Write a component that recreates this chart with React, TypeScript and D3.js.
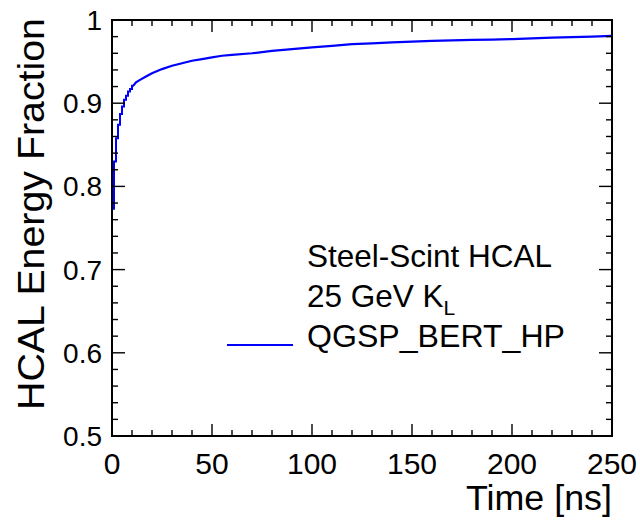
import * as d3 from "d3";
import React from "react";

const W = 640;
const H = 520;
const M = { left: 112, right: 28, top: 20, bottom: 84 };

// early bins (1 ns wide), drawn as histogram steps
const binEdges = [0, 1, 2, 3, 4, 5, 6, 7, 8, 9, 10];
const binValues = [0.773, 0.83, 0.858, 0.874, 0.887, 0.896, 0.904, 0.909, 0.914, 0.917, 0.921];

// later part of the curve
const timeNs = [11, 12, 14, 17, 20, 25, 30, 35, 40, 45, 50, 55, 60, 70, 80, 90, 100, 110, 120, 130, 140, 150, 160, 170, 180, 190, 200, 210, 220, 230, 240, 250];
const fraction = [0.922, 0.925, 0.928, 0.932, 0.936, 0.941, 0.945, 0.948, 0.951, 0.953, 0.955, 0.957, 0.958, 0.96, 0.963, 0.965, 0.967, 0.969, 0.971, 0.972, 0.973, 0.974, 0.975, 0.9755, 0.976, 0.9765, 0.977, 0.978, 0.9787, 0.9795, 0.98, 0.981];

const xTickLabels = ["0", "50", "100", "150", "200", "250"];
const yTickLabels = ["0.5", "0.6", "0.7", "0.8", "0.9", "1"];

const legendLines = ["Steel-Scint HCAL", "25 GeV K", "QGSP_BERT_HP"];

const FONT = "'Liberation Sans', Arial, Helvetica, sans-serif";

export default function App() {
  const x = d3.scaleLinear().domain([0, 250]).range([M.left, W - M.right]);
  const y = d3.scaleLinear().domain([0.5, 1]).range([H - M.bottom, M.top]);
  const [x0, x1] = x.range();
  const [y0, y1] = y.range();

  const stepPts: [number, number][] = [
    [0, 0.5],
    ...binEdges.map((t, i) => [t, binValues[i]] as [number, number]),
    [11, binValues[binValues.length - 1]],
  ];
  const linePts: [number, number][] = [
    [11, binValues[binValues.length - 1]],
    ...timeNs.map((t, i) => [t, fraction[i]] as [number, number]),
  ];

  const stepGen = d3.line<[number, number]>().x((d) => x(d[0])).y((d) => y(d[1])).curve(d3.curveStepAfter);
  const lineGen = d3.line<[number, number]>().x((d) => x(d[0])).y((d) => y(d[1]));

  const xMinor = d3.range(0, 251, 10);
  const yMinor = d3.range(0, 26).map((i) => 0.5 + i * 0.02);
  const xMajor = xTickLabels.map(Number);
  const yMajor = yTickLabels.map(Number);

  return (
    <svg width={W} height={H} style={{ position: "absolute", left: 0, top: 0, background: "#fff" }} fontFamily={FONT}>
      <rect x={0} y={0} width={W} height={H} fill="#fff" />

      {/* curve */}
      <path d={stepGen(stepPts) ?? ""} fill="none" stroke="#0000ff" strokeWidth={2} />
      <path d={lineGen(linePts) ?? ""} fill="none" stroke="#0000ff" strokeWidth={2.2} />

      {/* ticks on all four sides */}
      <g stroke="#000" strokeWidth={1.4}>
        {xMinor.map((t) => {
          const len = t % 50 === 0 ? 12 : 6;
          return (
            <g key={"x" + t}>
              <line x1={x(t)} x2={x(t)} y1={y0} y2={y0 - len} />
              <line x1={x(t)} x2={x(t)} y1={y1} y2={y1 + len} />
            </g>
          );
        })}
        {yMinor.map((v, i) => {
          const len = i % 5 === 0 ? 13 : 6;
          return (
            <g key={"y" + i}>
              <line x1={x0} x2={x0 + len} y1={y(v)} y2={y(v)} />
              <line x1={x1} x2={x1 - len} y1={y(v)} y2={y(v)} />
            </g>
          );
        })}
      </g>

      {/* frame */}
      <rect x={x0} y={y1} width={x1 - x0} height={y0 - y1} fill="none" stroke="#000" strokeWidth={2} />

      {/* tick labels */}
      {xMajor.map((t, i) => (
        <text key={"xl" + t} x={x(t)} y={y0 + 38} fontSize={30} textAnchor="middle" fill="#000">
          {xTickLabels[i]}
        </text>
      ))}
      {yMajor.map((v, i) => (
        <text key={"yl" + v} x={x0 - 10} y={y(v) + 10} fontSize={28} textAnchor="end" fill="#000">
          {yTickLabels[i]}
        </text>
      ))}

      {/* axis titles */}
      <text x={x1} y={510} fontSize={35} textAnchor="end" fill="#000" textLength={146} lengthAdjust="spacingAndGlyphs">
        Time [ns]
      </text>
      <text
        transform={`translate(44,${y1 - 2}) rotate(-90)`}
        fontSize={36}
        textAnchor="end"
        fill="#000"
        textLength={392}
        lengthAdjust="spacingAndGlyphs"
      >
        HCAL Energy Fraction
      </text>

      {/* legend */}
      <text x={307} y={267} fontSize={31.5} fill="#000">{legendLines[0]}</text>
      <text x={307} y={307} fontSize={31.5} fill="#000">
        {legendLines[1]}
        <tspan fontSize={21} dy={8}>L</tspan>
      </text>
      <line x1={227} x2={293} y1={345} y2={345} stroke="#0000ff" strokeWidth={2} />
      <text x={307} y={347} fontSize={31.5} fill="#000" textLength={258} lengthAdjust="spacingAndGlyphs">
        {legendLines[2]}
      </text>
    </svg>
  );
}
